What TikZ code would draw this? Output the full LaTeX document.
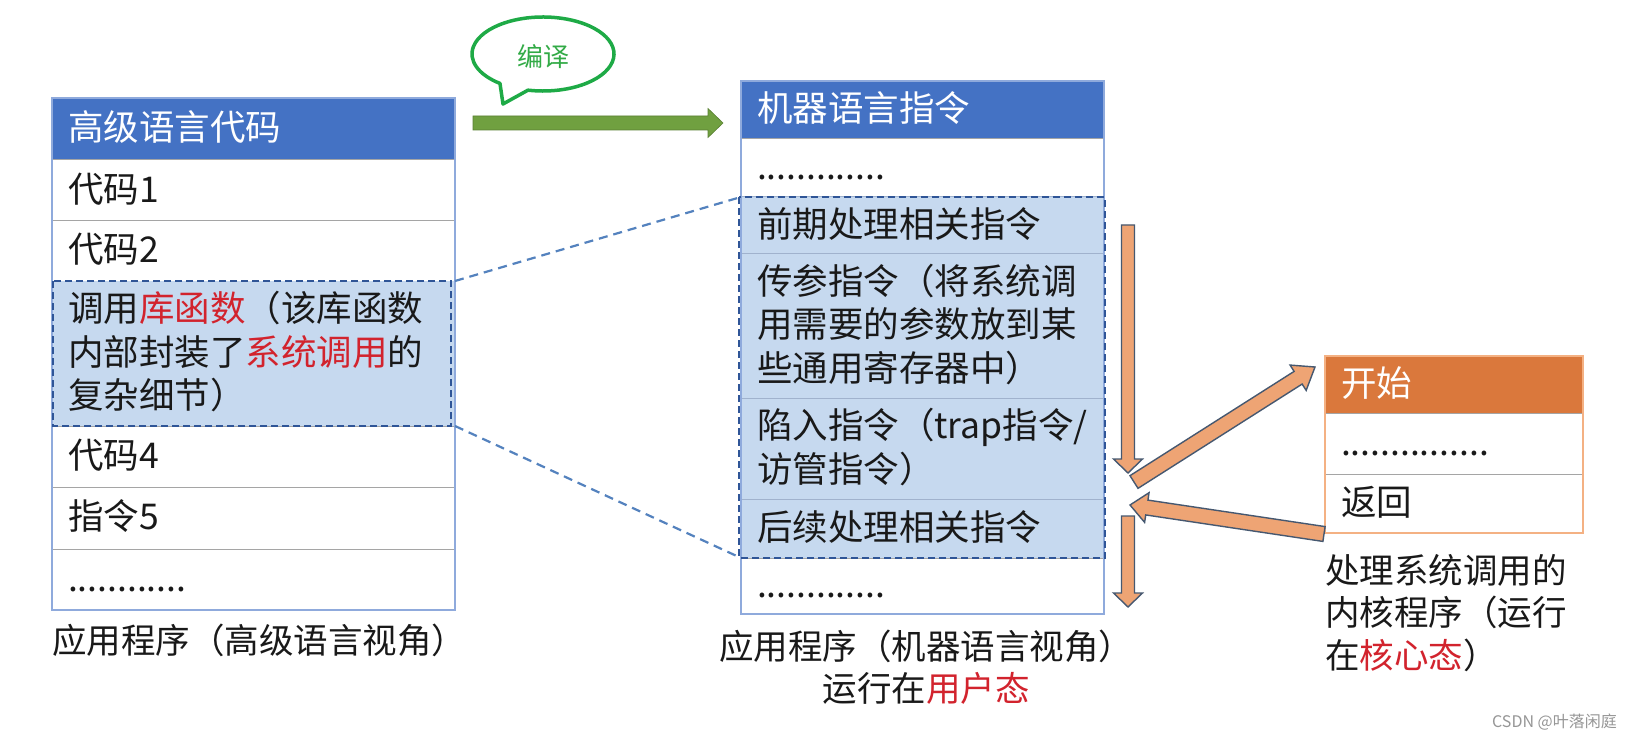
\documentclass[tikz,border=0pt]{standalone}
\usepackage{fontspec}
\setmainfont{Noto Sans CJK SC}
\usetikzlibrary{calc}
\definecolor{hdrblue}{RGB}{68,114,196}
\definecolor{hlfill}{RGB}{198,217,239}
\definecolor{tblline}{RGB}{143,170,220}
\definecolor{sepgray}{RGB}{165,165,165}
\definecolor{hlsep}{RGB}{160,178,205}
\definecolor{dashblue}{RGB}{47,85,151}
\definecolor{linkblue}{RGB}{84,130,190}
\definecolor{txt}{RGB}{25,25,25}
\definecolor{redtxt}{RGB}{210,35,45}
\definecolor{hdrorange}{RGB}{218,120,60}
\definecolor{orline}{RGB}{244,177,131}
\definecolor{arrfill}{RGB}{238,164,116}
\definecolor{arrline}{RGB}{70,88,112}
\definecolor{greenarr}{RGB}{112,160,64}
\definecolor{bubgreen}{RGB}{30,170,70}
\definecolor{bubtext}{RGB}{50,170,70}
\definecolor{wmgray}{RGB}{150,150,150}
\newcommand\bodyfont{\fontsize{35.5}{43.5}\selectfont}
\newcommand\capfont{\fontsize{34.5}{42.5}\selectfont}
\newcommand\cellstrut{\rule[-10pt]{0pt}{43.5pt}}
\newcommand\hl[1]{\textcolor{redtxt}{#1}}
\newcommand\blockarrow[6]{%
  \filldraw[#1] let \p1=($(#3)-(#2)$), \n1={atan2(\y1,\x1)}, \n2={veclen(\x1,\y1)-#6} in
   ($(#2)+(\n1+90:#4pt)$) -- ($(#2)+(\n1:\n2)+(\n1+90:#4pt)$) --
   ($(#2)+(\n1:\n2)+(\n1+90:#5pt)$) -- (#3) --
   ($(#2)+(\n1:\n2)+(\n1-90:#5pt)$) -- ($(#2)+(\n1:\n2)+(\n1-90:#4pt)$) --
   ($(#2)+(\n1-90:#4pt)$) -- cycle;}
\tikzset{
  cellbase/.style={anchor=north west, inner xsep=16pt, inner ysep=0pt, outer sep=0pt,
    align=left, font=\bodyfont, text=txt, line width=1pt,
    execute at begin node=\cellstrut, execute at end node=\cellstrut},
  Lcell/.style={cellbase, text width=371pt, minimum height=#1, draw=sepgray},
  Lhdr/.style={Lcell=#1, fill=hdrblue, draw=hdrblue, text=white},
  Mcell/.style={cellbase, text width=331pt, minimum height=#1, draw=sepgray},
  Mhdr/.style={Mcell=#1, fill=hdrblue, draw=hdrblue, text=white},
  Mhl/.style={Mcell=#1, fill=hlfill, draw=hlsep},
  Rcell/.style={cellbase, text width=226pt, minimum height=#1, draw=sepgray},
  Rhdr/.style={Rcell=#1, fill=hdrorange, draw=hdrorange, text=white},
  tblborder/.style={draw=tblline, line width=1.5pt},
  orborder/.style={draw=orline, line width=1.5pt},
  hldash/.style={draw=dashblue, line width=1.8pt, dash pattern=on 7pt off 4pt},
  linkdash/.style={draw=linkblue, line width=2.2pt, dash pattern=on 9pt off 6pt},
  capstyle/.style={font=\capfont, text=txt, inner sep=0pt},
  bubble/.style={draw=bubgreen, line width=3.5pt, fill=white, line join=round},
  greenblock/.style={fill=greenarr, draw=greenarr!80!black, line width=0.6pt},
  orangeblock/.style={fill=arrfill, draw=arrline, line width=1.4pt, line join=miter}
}
\begin{document}
\begin{tikzpicture}[x=1pt,y=-1pt]
\useasboundingbox (0,0) rectangle (1631,738);
\fill[white] (0,0) rectangle (1631,738);

% speech bubble
\draw[bubble] (543,54) ++(257.8:71pt and 37pt)
  arc[start angle=257.8, end angle=592.7, x radius=71pt, y radius=37pt] -- (503,104) -- cycle;
\node[text=bubtext, font=\fontsize{26}{30}\selectfont, inner sep=0pt] (bubT) at (543,57) {编译};

% left table
\node[Lhdr=62pt] (hL) at (52,98) {高级语言代码};
\node[Lcell=61pt] (L1) at (52,160) {代码1};
\node[Lcell=60pt] (L2) at (52,221) {代码2};
\node[Lcell=145pt, fill=hlfill, draw=none] (L3) at (52,281) {调用\hl{库函数}（该库函数\\内部封装了\hl{系统调用}的\\复杂细节）};
\node[Lcell=61pt] (L4) at (52,426) {代码4};
\node[Lcell=62pt] (L5) at (52,487) {指令5};
\node[Lcell=61pt] (L6) at (52,549) {............};
\draw[tblborder] (hL.north west) rectangle (L6.south east);
\draw[hldash] ([xshift=1pt]L3.north west) rectangle ([xshift=-4pt]L3.south east);
\node[capstyle, anchor=west] (capL) at (52,640) {应用程序（高级语言视角）};

% middle table
\node[Mhdr=58pt] (hM) at (741,81) {机器语言指令};
\node[Mcell=58pt] (M1) at (741,139) {.............};
\node[Mhl=57pt] (M2) at (741,197) {前期处理相关指令};
\node[Mhl=144pt] (M3) at (741,254) {传参指令（将系统调\\用需要的参数放到某\\些通用寄存器中）};
\node[Mhl=101pt] (M4) at (741,398) {陷入指令（trap指令/\\访管指令）};
\node[Mhl=59pt] (M5) at (741,499) {后续处理相关指令};
\node[Mcell=56pt] (M6) at (741,558) {.............};
\draw[tblborder] (hM.north west) rectangle (M6.south east);
\draw[hldash] ([xshift=-2pt]M2.north west) rectangle ([xshift=1pt]M5.south east);
\node[capstyle, align=center] (capM) at (926,667) {应用程序（机器语言视角）\\运行在\hl{用户态}};

% dashed links
\draw[linkdash] (L3.north east) -- (M2.north west);
\draw[linkdash] (L3.south east) -- (M5.south west);

% compile arrow
\coordinate (gS) at (473,123);
\coordinate (gE) at (723,123);
\blockarrow{greenblock}{gS}{gE}{7}{14.5}{15}

% right table
\node[Rhdr=57pt] (hR) at (1325,356) {开始};
\node[Rcell=61pt] (R1) at (1325,413) {...............};
\node[Rcell=59pt] (R2) at (1325,474) {返回};
\draw[orborder] (hR.north west) rectangle (R2.south east);
\node[capstyle, align=left, anchor=west] (capR) at (1325,613) {处理系统调用的\\内核程序（运行\\在\hl{核心态}）};

% orange flow arrows
\coordinate (a1s) at (1128,225);
\coordinate (a1e) at (1128,473);
\coordinate (a2s) at (1128,516);
\coordinate (a2e) at (1128,607);
\coordinate (a3s) at (1134,482);
\coordinate (a3e) at (1315,367);
\coordinate (a4s) at (1324,534);
\coordinate (a4e) at (1130,505);
\blockarrow{orangeblock}{a1s}{a1e}{6.5}{14.5}{14}
\blockarrow{orangeblock}{a2s}{a2e}{6.5}{14.5}{14}
\blockarrow{orangeblock}{a3s}{a3e}{7.5}{15}{20}
\blockarrow{orangeblock}{a4s}{a4e}{7.5}{15}{17}

% watermark
\node[font=\fontsize{16}{18}\selectfont, text=wmgray, anchor=east, inner sep=0pt] (wm) at (1617,722) {CSDN @叶落闲庭};
\end{tikzpicture}
\end{document}
